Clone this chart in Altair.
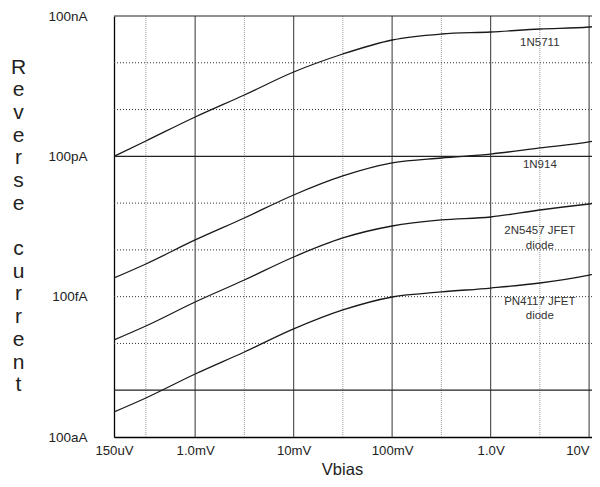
import altair as alt
import pandas as pd

# ---- data ----
vbias = [150e-6, 316e-6, 1e-3, 3.16e-3, 10e-3, 31.6e-3, 0.1, 0.316, 1.0, 3.16, 10.0, 12.6]
i_1n5711 = [1.0e-10, 2.13e-10, 6.93e-10, 2.05e-9, 6.35e-9, 1.54e-8, 3.07e-8, 4.12e-8, 4.55e-8, 5.27e-8, 5.82e-8, 6.11e-8]
i_1n914 = [2.51e-13, 5.00e-13, 1.63e-12, 4.81e-12, 1.49e-11, 3.80e-11, 7.21e-11, 9.22e-11, 1.12e-10, 1.51e-10, 2.03e-10, 2.23e-10]
i_2n5457 = [1.19e-14, 2.36e-14, 7.69e-14, 2.27e-13, 7.05e-13, 1.80e-12, 3.24e-12, 4.36e-12, 5.05e-12, 7.13e-12, 9.58e-12, 1.01e-11]
i_pn4117 = [3.43e-16, 6.83e-16, 2.22e-15, 6.56e-15, 2.04e-14, 5.19e-14, 9.84e-14, 1.26e-13, 1.53e-13, 1.96e-13, 2.90e-13, 3.21e-13]
series_names = ["1N5711", "1N914", "2N5457", "PN4117"]

label_lines = ["1N5711", "1N914", "2N5457 JFET", "diode", "PN4117 JFET", "diode"]
label_v = [3.16, 3.16, 3.16, 3.16, 3.16, 3.16]
label_i = [2.65e-8, 6.53e-11, 2.58e-12, 1.21e-12, 7.65e-14, 3.82e-14]

x_tick_vals = [150e-6, 1e-3, 1e-2, 0.1, 1.0, 10.0]
x_tick_text = ["150uV", "1.0mV", "10mV", "100mV", "1.0V", "10V"]
y_tick_vals = [1e-16, 1e-13, 1e-10, 1e-7]
y_tick_text = ["100aA", "100fA", "100pA", "100nA"]

h_solid = [1e-7, 1e-10, 1e-15]
h_dotted = [1e-8, 1e-9, 1e-11, 1e-12, 1e-13, 1e-14]
v_solid = [1e-3, 1e-2, 0.1, 1.0, 10.0]
v_dotted = [316e-6, 3.16e-3, 31.6e-3, 0.316, 3.16]

y_title = list("Reverse") + ["\u200b"] + list("current")

# ---- build tables ----
rows = []
for name, vals in zip(series_names, [i_1n5711, i_1n914, i_2n5457, i_pn4117]):
    for v, i in zip(vbias, vals):
        rows.append({"series": name, "V": v, "I": i})
curves = pd.DataFrame(rows)
labels = pd.DataFrame({"V": label_v, "I": label_i, "text": label_lines})


def build_expr(vals, texts, fmt):
    expr = "'" + texts[-1] + "'"
    for k in range(len(vals) - 2, -1, -1):
        mid = (vals[k] * vals[k + 1]) ** 0.5
        expr = f"datum.value < {format(mid, fmt)} ? '{texts[k]}' : " + expr
    return expr


FONT = "Liberation Sans"
xscale = alt.Scale(type="log", domain=[150e-6, 10.7], nice=False)
yscale = alt.Scale(type="log", domain=[1e-16, 1e-7], nice=False)

x_axis = alt.Axis(
    values=x_tick_vals, labelExpr=build_expr(x_tick_vals, x_tick_text, ".6f"),
    labelAlign=alt.ExprRef(expr="datum.value > 5 ? 'right' : 'center'"),
    grid=False, ticks=False, labelPadding=7,
    labelFont=FONT, labelFontSize=13.2, labelColor="#222",
    labelOverlap=False, labelFlush=False,
    domainColor="#000", domainWidth=1.3,
    title="Vbias", titleFont=FONT, titleFontSize=16.5, titleFontWeight="normal",
    titleColor="#222", titleX=228, titleY=37, titleAlign="center",
    titleBaseline="alphabetic",
)
y_axis = alt.Axis(
    values=y_tick_vals, labelExpr=build_expr(y_tick_vals, y_tick_text, ".3e"),
    grid=False, ticks=False, labelPadding=27,
    labelFont=FONT, labelFontSize=13.5, labelColor="#222",
    labelOverlap=False, labelFlush=False,
    domainColor="#000", domainWidth=1.3,
    title=y_title, titleFont=FONT, titleFontSize=21, titleFontWeight="normal",
    titleColor="#222", titleAngle=0, titleX=-96, titleY=57, titleAlign="center",
    titleBaseline="alphabetic", titleLineHeight=22.7,
)

curve_layer = alt.Chart(curves).mark_line(
    color="#1a1a1a", strokeWidth=1.3, interpolate="monotone", clip=True
).encode(
    x=alt.X("V:Q", scale=xscale, axis=x_axis),
    y=alt.Y("I:Q", scale=yscale, axis=y_axis),
    detail="series:N",
)

h_solid_layer = alt.Chart(pd.DataFrame({"I": h_solid})).mark_rule(
    color="#222", strokeWidth=1.2
).encode(y=alt.Y("I:Q", scale=yscale, axis=y_axis))

h_dot_layer = alt.Chart(pd.DataFrame({"I": h_dotted})).mark_rule(
    color="#333", strokeWidth=1, strokeDash=[1, 2]
).encode(y=alt.Y("I:Q", scale=yscale, axis=y_axis))

v_solid_layer = alt.Chart(pd.DataFrame({"V": v_solid})).mark_rule(
    color="#555", strokeWidth=1.2
).encode(x=alt.X("V:Q", scale=xscale, axis=x_axis))

v_dot_layer = alt.Chart(pd.DataFrame({"V": v_dotted})).mark_rule(
    color="#999", strokeWidth=1, strokeDash=[1, 1]
).encode(x=alt.X("V:Q", scale=xscale, axis=x_axis))

label_layer = alt.Chart(labels).mark_text(
    font=FONT, fontSize=11.5, color="#333", align="center", baseline="middle"
).encode(
    x=alt.X("V:Q", scale=xscale, axis=x_axis),
    y=alt.Y("I:Q", scale=yscale, axis=y_axis),
    text="text:N",
)

chart = alt.layer(
    v_dot_layer, h_dot_layer, v_solid_layer, h_solid_layer, curve_layer, label_layer
).properties(
    width=478, height=421,
    padding={"left": 106, "top": 8, "right": 0, "bottom": 42},
    autosize=alt.AutoSizeParams(type="none"),
    background="white",
).configure_view(stroke=None)

chart.save("out.html", embed_options={"renderer": "svg", "actions": False})
